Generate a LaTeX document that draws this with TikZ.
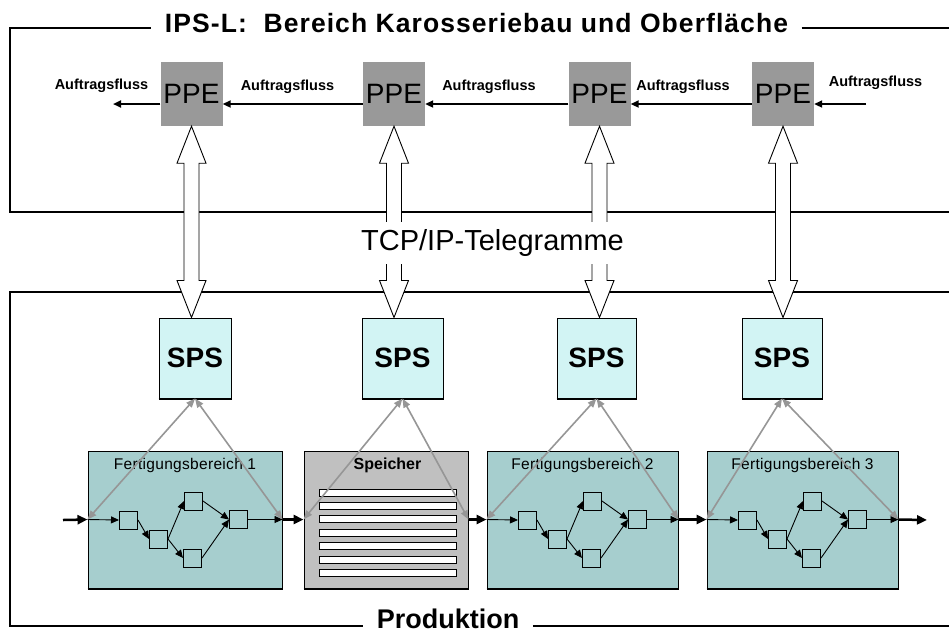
\documentclass[tikz,border=0pt]{standalone}
\usepackage{fontspec}
\setmainfont{Liberation Sans}
\usetikzlibrary{arrows.meta,calc}

\definecolor{ppegrey}{RGB}{153,153,153}
\definecolor{spscyan}{RGB}{210,244,244}
\definecolor{areateal}{RGB}{166,206,206}
\definecolor{storegrey}{RGB}{192,192,192}
\definecolor{linkgrey}{RGB}{150,150,150}

\tikzset{
  frame/.style={line width=2pt},
  bigtitle/.style={anchor=base, inner xsep=13.5pt, inner ysep=0pt,
    font=\fontsize{26.5}{30}\bfseries\addfontfeature{LetterSpace=4}},
  prodtitle/.style={anchor=base, inner xsep=13.5pt, inner ysep=0pt,
    font=\fontsize{27}{30}\bfseries},
  ppebox/.style={fill=ppegrey, minimum width=62pt, minimum height=64pt,
    inner sep=0pt, font=\fontsize{28}{30}\selectfont},
  spsbox/.style={draw, line width=1pt, fill=spscyan, minimum height=80pt,
    inner sep=0pt, font=\fontsize{28}{30}\bfseries},
  areabox/.style={draw, line width=1pt, fill=areateal, minimum height=137pt,
    inner sep=0pt},
  storebox/.style={draw, line width=1pt, fill=storegrey, minimum height=137pt,
    inner sep=0pt},
  areatitle/.style={font=\fontsize{15.5}{17}\addfontfeature{LetterSpace=2}, inner sep=0pt},
  storetitle/.style={font=\fontsize{16}{17}\bfseries, inner sep=0pt},
  cell/.style={draw, line width=1pt, fill=areateal, minimum size=18pt, inner sep=0pt},
  bar/.style={draw, line width=1pt, fill=white, minimum width=137pt,
    minimum height=7pt, inner sep=0pt},
  orderlabel/.style={font=\fontsize{14.5}{16}\bfseries, inner sep=0pt},
  order/.style={line width=2pt, -{Triangle[length=8pt,width=7pt]}},
  hollow/.style={draw, fill=white, line width=0.9pt, line join=miter},
  link/.style={draw=linkgrey, line width=1.6pt,
    {Triangle[length=9pt,width=7pt]}-{Triangle[length=9pt,width=7pt]}},
  bigflow/.style={line width=2.5pt, -{Triangle[length=10pt,width=9pt]}},
  smallflow/.style={line width=0.9pt, -{Triangle[length=8pt,width=7pt]}},
  telegram/.style={fill=white, inner xsep=2pt, inner ysep=7pt,
    font=\fontsize{29}{31}\selectfont},
}

% double-headed hollow arrow from the bottom of #1 to the top of #2
\newcommand\hollowlink[2]{%
  \coordinate (ht) at (#1.south);
  \coordinate (hb) at (#1.south |- #2.north);
  \draw[hollow] (ht) -- ([shift={(14.5,37)}]ht) -- ([shift={(7.5,37)}]ht)
    -- ([shift={(7.5,-37)}]hb) -- ([shift={(14.5,-37)}]hb) -- (hb)
    -- ([shift={(-14.5,-37)}]hb) -- ([shift={(-7.5,-37)}]hb)
    -- ([shift={(-7.5,37)}]ht) -- ([shift={(-14.5,37)}]ht) -- cycle;
}

% small process network inside a production area #1
\newcommand\areanet[1]{%
  \node[cell] (#1-a) at ($(#1.west)+(41,0.5)$) {};
  \node[cell] (#1-b) at ($(#1.west)+(71,19.5)$) {};
  \node[cell] (#1-c) at ($(#1.west)+(106,-18.5)$) {};
  \node[cell] (#1-d) at ($(#1.west)+(105,38.5)$) {};
  \node[cell] (#1-e) at ($(#1.west)+(151,0)$) {};
  \draw[smallflow] (#1.west) -- (#1-a.west);
  \draw[smallflow] (#1-a.east) -- (#1-b.west);
  \draw[smallflow] (#1-b.east) -- (#1-c.west);
  \draw[smallflow] (#1-b.east) -- (#1-d.west);
  \draw[smallflow] (#1-c.east) -- (#1-e.west);
  \draw[smallflow] (#1-d.east) -- (#1-e.west);
  \draw[smallflow] (#1-e.east) -- (#1.east);
  \draw[line width=2pt] (#1.south west) -- (#1.south east);
}

\begin{document}
\begin{tikzpicture}[x=1pt,y=-1pt]
\useasboundingbox (0,0) rectangle (949,633);

% --- control level ---------------------------------------------------
\coordinate (tl) at (10,28);
\node[bigtitle] (ttl) at (476.5,32) {IPS-L:\ \ Bereich Karosseriebau und Oberfläche};
\draw[frame] (949,212) -- (10,212) -- (tl) -- (ttl.west |- tl);
\draw[frame] (ttl.east |- tl) -- (949,28);

\node[ppebox] (ppe1) at (191.5,94) {PPE};
\node[ppebox] (ppe2) at (394,94) {PPE};
\node[ppebox] (ppe3) at (599.5,94) {PPE};
\node[ppebox] (ppe4) at (783,94) {PPE};

\coordinate (afout) at (113,104);
\coordinate (afin) at (866,104);
\draw[order] ([yshift=-10pt]ppe1.west) -- (afout);
\draw[order] ([yshift=-10pt]ppe2.west) -- ([yshift=-10pt]ppe1.east);
\draw[order] ([yshift=-10pt]ppe3.west) -- ([yshift=-10pt]ppe2.east);
\draw[order] ([yshift=-10pt]ppe4.west) -- ([yshift=-10pt]ppe3.east);
\draw[order] (afin) -- ([yshift=-10pt]ppe4.east);

\node[orderlabel] (af1) at (101.5,86) {Auftragsfluss};
\node[orderlabel] (af2) at (287.5,87) {Auftragsfluss};
\node[orderlabel] (af3) at (489,87) {Auftragsfluss};
\node[orderlabel] (af4) at (683,87) {Auftragsfluss};
\node[orderlabel] (af5) at (875.5,83) {Auftragsfluss};

% --- production level ------------------------------------------------
\coordinate (bl) at (10,626);
\node[prodtitle] (prod) at (448,628) {Produktion};
\draw[frame] (949,292) -- (10,292) -- (bl) -- (prod.west |- bl);
\draw[frame] (prod.east |- bl) -- (949,626);

\node[spsbox, minimum width=72pt] (sps1) at (195,358) {SPS};
\node[spsbox, minimum width=81pt] (sps2) at (402.5,358) {SPS};
\node[spsbox, minimum width=79pt] (sps3) at (596.5,358) {SPS};
\node[spsbox, minimum width=80pt] (sps4) at (782,358) {SPS};
\foreach \s in {sps1,sps2,sps3,sps4}
  \draw[line width=2pt] (\s.south west) -- (\s.south east);

% TCP/IP links between the two levels
\hollowlink{ppe1}{sps1}
\hollowlink{ppe2}{sps2}
\hollowlink{ppe3}{sps3}
\hollowlink{ppe4}{sps4}
\node[telegram] (tcp) at (492.5,243) {TCP/IP-Telegramme};

% production areas
\node[areabox, minimum width=194pt] (fb1) at (185,519.5) {};
\node[storebox, minimum width=164pt] (spk) at (386,519.5) {};
\node[areabox, minimum width=191pt] (fb2) at (582.5,519.5) {};
\node[areabox, minimum width=191pt] (fb3) at (802.5,519.5) {};

\node[areatitle] (fb1t) at ($(fb1.north)+(0,15)$) {Fertigungsbereich 1};
\node[storetitle] (spkt) at ($(spk.north)+(1.5,15)$) {Speicher};
\node[areatitle] (fb2t) at ($(fb2.north)+(0,15)$) {Fertigungsbereich 2};
\node[areatitle] (fb3t) at ($(fb3.north)+(0,15)$) {Fertigungsbereich 3};

\areanet{fb1}
\areanet{fb2}
\areanet{fb3}
\draw[line width=2pt] (spk.south west) -- (spk.south east);

\foreach \k in {0,...,6}
  \node[bar] (bar\k) at (387.5,492.5+13.4*\k) {};

% material flow
\coordinate (matin) at (63,520);
\coordinate (matout) at (927,520);
\draw[bigflow] (matin) -- (fb1.west);
\draw[bigflow] (fb1.east) -- (spk.west);
\draw[bigflow] (spk.east) -- (fb2.west);
\draw[bigflow] (fb2.east) -- (fb3.west);
\draw[bigflow] (fb3.east) -- (matout);

% controller links
\draw[link] (sps1.south) -- (fb1.west);
\draw[link] (sps1.south) -- (fb1.east);
\draw[link] (sps2.south) -- (spk.west);
\draw[link] (sps2.south) -- (spk.east);
\draw[link] (sps3.south) -- (fb2.west);
\draw[link] (sps3.south) -- (fb2.east);
\draw[link] (sps4.south) -- (fb3.west);
\draw[link] (sps4.south) -- (fb3.east);
\end{tikzpicture}
\end{document}
